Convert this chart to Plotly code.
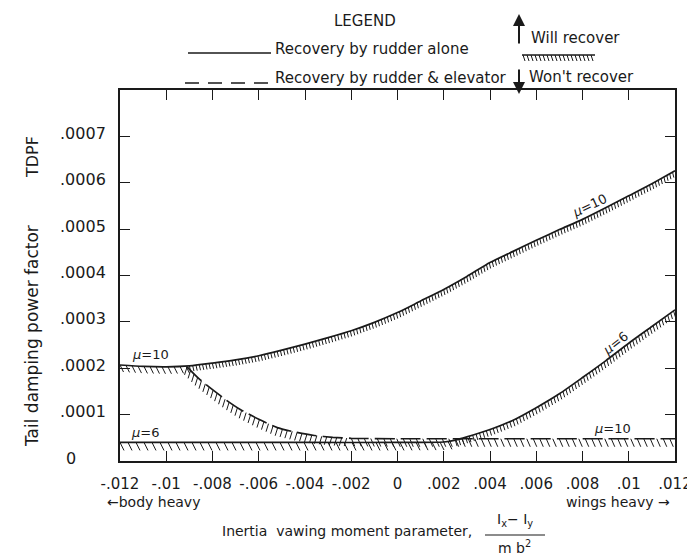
import numpy as np
import plotly.graph_objects as go

# ---------------- data ----------------
x_mu10_rudder = [-0.012, -0.011, -0.010, -0.009, -0.008, -0.007, -0.006, -0.005, -0.004, -0.003, -0.002,
                 -0.001, 0.000, 0.001, 0.002, 0.003, 0.004, 0.005, 0.006, 0.007, 0.008, 0.009, 0.010, 0.011, 0.012]
y_mu10_rudder = [0.000207, 0.000204, 0.000203, 0.000205, 0.000211, 0.000218, 0.000227, 0.000239, 0.000252, 0.000266, 0.000281,
                 0.000299, 0.000320, 0.000345, 0.000370, 0.000398, 0.000428, 0.000452, 0.000476, 0.000499, 0.000521, 0.000546, 0.000572, 0.000598, 0.000626]

x_mu6_rudder = [-0.012, -0.008, -0.004, 0.000, 0.002, 0.0025, 0.003, 0.004, 0.005, 0.006, 0.007, 0.008, 0.009, 0.010, 0.011, 0.012]
y_mu6_rudder = [0.000040, 0.000040, 0.000040, 0.000040, 0.000041, 0.000045, 0.000052, 0.000068, 0.000088, 0.000115, 0.000145, 0.000180, 0.000216, 0.000254, 0.000290, 0.000326]

x_mu10_elev = [-0.0091, -0.0086, -0.0080, -0.0074, -0.0068, -0.0060, -0.0052, -0.0044, -0.0036, -0.0028, -0.0020,
               0.000, 0.004, 0.008, 0.012]
y_mu10_elev = [0.000203, 0.000178, 0.000154, 0.000131, 0.000111, 0.000090, 0.000072, 0.000062, 0.000055, 0.000051, 0.000049,
               0.000048, 0.000048, 0.000048, 0.000048]

# curve labels: text, x, y, angle
curve_label_text = ["<i>μ</i>=10", "<i>μ</i>=6", "<i>μ</i>=10", "<i>μ</i>=6", "<i>μ</i>=10"]
curve_label_x = [-0.0107, -0.0109, 0.0083, 0.0094, 0.0093]
curve_label_y = [0.000229, 0.000061, 0.000552, 0.000254, 0.000070]
curve_label_angle = [0, 0, -25, -38, 0]

x_ticks = [-0.012, -0.010, -0.008, -0.006, -0.004, -0.002, 0.0, 0.002, 0.004, 0.006, 0.008, 0.010, 0.012]
x_tick_text = ["-.012", "-.01", "-.008", "-.006", "-.004", "-.002", "0", ".002", ".004", ".006", ".008", ".01", ".012"]
y_ticks = [0.0, 0.0001, 0.0002, 0.0003, 0.0004, 0.0005, 0.0006, 0.0007]
y_tick_text = ["0", ".0001", ".0002", ".0003", ".0004", ".0005", ".0006", ".0007"]

# ---------------- layout geometry ----------------
W, H = 695, 555
ML, MR, MT, MB = 112, 28, 82, 102
PW, PH = W - ML - MR, H - MT - MB
XR = [-0.012, 0.012]
YR = [0.0, 0.0008]
SX = (XR[1] - XR[0]) / PW
SY = (YR[1] - YR[0]) / PH
FONT = "DejaVu Sans"
INK = "#1a1a1a"


def px(xp):
    return (xp - ML) / PW


def py(yp):
    return (H - MB - yp) / PH


def hatch(xs, ys, spacing, dx, dy, dash=None, start=0.0):
    """short strokes hanging below a curve, placed every `spacing` px of arc length"""
    pxs = (np.asarray(xs) - XR[0]) / SX
    pys = (np.asarray(ys) - YR[0]) / SY
    d = np.hypot(np.diff(pxs), np.diff(pys))
    s = np.concatenate([[0.0], np.cumsum(d)])
    t = np.arange(start, s[-1], spacing)
    if dash is not None:
        on, off = dash
        t = t[(t % (on + off)) < on]
    hx = np.interp(t, s, pxs)
    hy = np.interp(t, s, pys)
    sx, sy = [], []
    for a, b in zip(hx, hy):
        sx += [XR[0] + a * SX, XR[0] + (a + dx) * SX, None]
        sy += [YR[0] + b * SY, YR[0] + (b - dy) * SY, None]
    return sx, sy


def add_hatch(fig, hx, hy):
    fig.add_trace(go.Scatter(x=hx, y=hy, mode="lines", line=dict(color=INK, width=1),
                             hoverinfo="skip", showlegend=False))


fig = go.Figure()

# hatching ("won't recover" side)
xa = np.array(x_mu10_rudder); ya = np.array(y_mu10_rudder)
add_hatch(fig, *hatch(xa[xa <= -0.009], ya[xa <= -0.009], 6, 3.5, 7))
add_hatch(fig, *hatch(xa[xa >= -0.009], ya[xa >= -0.009], 3.3, 1.3, 5.5))

xb = np.array(x_mu6_rudder); yb = np.array(y_mu6_rudder)
add_hatch(fig, *hatch(xb[xb <= 0.0025], yb[xb <= 0.0025], 8, 4, 8))
add_hatch(fig, *hatch(xb[xb >= 0.0025], yb[xb >= 0.0025], 3.6, 1.8, 6))

xc = np.array(x_mu10_elev); yc = np.array(y_mu10_elev)
add_hatch(fig, *hatch(xc[xc <= -0.002], yc[xc <= -0.002], 5, -2.5, 8))
add_hatch(fig, *hatch(xc[xc >= -0.002], yc[xc >= -0.002], 6.5, 3.5, 8, dash=(20, 6)))

# boundary curves
fig.add_trace(go.Scatter(x=x_mu10_rudder, y=y_mu10_rudder, mode="lines",
                         line=dict(color=INK, width=1.7, shape="spline", smoothing=0.6),
                         hoverinfo="skip", showlegend=False))
fig.add_trace(go.Scatter(x=x_mu6_rudder, y=y_mu6_rudder, mode="lines",
                         line=dict(color=INK, width=1.7, shape="spline", smoothing=0.6),
                         hoverinfo="skip", showlegend=False))
fig.add_trace(go.Scatter(x=x_mu10_elev, y=y_mu10_elev, mode="lines",
                         line=dict(color=INK, width=1.7, dash="20px,6px", shape="spline", smoothing=0.5),
                         hoverinfo="skip", showlegend=False))

ann = []
# y tick labels (left aligned like the hand lettering, sitting a little above their ticks)
for v, t in zip(y_ticks, y_tick_text):
    ann.append(dict(x=px(50 if t != "0" else 56), y=v, xref="paper", yref="y", text=t, showarrow=False,
                    xanchor="left", yanchor="middle", yshift=3, font=dict(size=16, color=INK, family=FONT)))

# curve labels
for t, xv, yv, ang in zip(curve_label_text, curve_label_x, curve_label_y, curve_label_angle):
    ann.append(dict(x=xv, y=yv, xref="x", yref="y", text=t, textangle=ang, showarrow=False,
                    xanchor="center", yanchor="middle", font=dict(size=13, color=INK, family=FONT)))


def T(xp, yp, text, anchor="center", size=15, angle=0):
    return dict(x=px(xp), y=py(yp), xref="paper", yref="paper", text=text, showarrow=False,
                xanchor=anchor, yanchor="middle", textangle=angle, font=dict(size=size, color=INK, family=FONT))


ann += [
    T(357, 13, "LEGEND"),
    T(265, 41, "Recovery by rudder alone", "left"),
    T(265, 70, "Recovery by rudder &amp; elevator", "left"),
    T(521, 30, "Will recover", "left"),
    T(519, 69, "Won't recover", "left"),
    T(24, 149, "TDPF", angle=-90, size=16),
    T(24, 328, "Tail damping power factor", angle=-90, size=17),
    T(97, 494, "\u2190body heavy", "left", size=14),
    T(664, 494, "wings heavy \u2192", "right", size=14),
    T(466, 523, "Inertia  vawing moment parameter,", "right", size=14),
    T(507, 512, "I<sub>x</sub>\u2212 I<sub>y</sub>", size=14),
    T(507, 539, "m b<sup>2</sup>", size=14),
]
# arrows in the legend
ann += [
    dict(x=px(511), y=py(6), ax=0, ay=31, xref="paper", yref="paper",
         text="", showarrow=True, arrowhead=2, arrowsize=1.2, arrowwidth=2, arrowcolor=INK),
    dict(x=px(511), y=py(86), ax=0, ay=-26, xref="paper", yref="paper",
         text="", showarrow=True, arrowhead=2, arrowsize=1.2, arrowwidth=2, arrowcolor=INK),
]

shapes = [
    dict(type="line", xref="paper", yref="paper", x0=px(180), x1=px(263), y0=py(45), y1=py(45),
         line=dict(color=INK, width=1.5)),
    dict(type="line", xref="paper", yref="paper", x0=px(177), x1=px(264), y0=py(75), y1=py(75),
         line=dict(color=INK, width=1.5, dash="14px,9px")),
    dict(type="line", xref="paper", yref="paper", x0=px(514), x1=px(587), y0=py(47), y1=py(47),
         line=dict(color=INK, width=1.5)),
    dict(type="line", xref="paper", yref="paper", x0=px(477), x1=px(537), y0=py(527), y1=py(527),
         line=dict(color=INK, width=1.2)),
]
for k in range(0, 72, 4):
    shapes.append(dict(type="line", xref="paper", yref="paper", x0=px(515 + k), x1=px(517 + k),
                       y0=py(47), y1=py(53), line=dict(color=INK, width=1)))

fig.update_layout(
    width=W, height=H,
    margin=dict(l=ML, r=MR, t=MT, b=MB),
    paper_bgcolor="white", plot_bgcolor="white",
    annotations=ann, shapes=shapes,
    xaxis=dict(range=XR, tickvals=x_ticks, ticktext=x_tick_text, ticks="inside", ticklen=10, tickwidth=1.2,
               tickcolor=INK, showgrid=False, zeroline=False, showline=True, linecolor=INK, linewidth=2,
               mirror="ticks", tickfont=dict(size=15, color=INK, family=FONT), ticklabelstandoff=8),
    yaxis=dict(range=YR, tickvals=y_ticks, showticklabels=False, ticks="inside", ticklen=10, tickwidth=1.2,
               tickcolor=INK, showgrid=False, zeroline=False, showline=True, linecolor=INK, linewidth=2,
               mirror="ticks"),
)

fig.write_html("out.html")
